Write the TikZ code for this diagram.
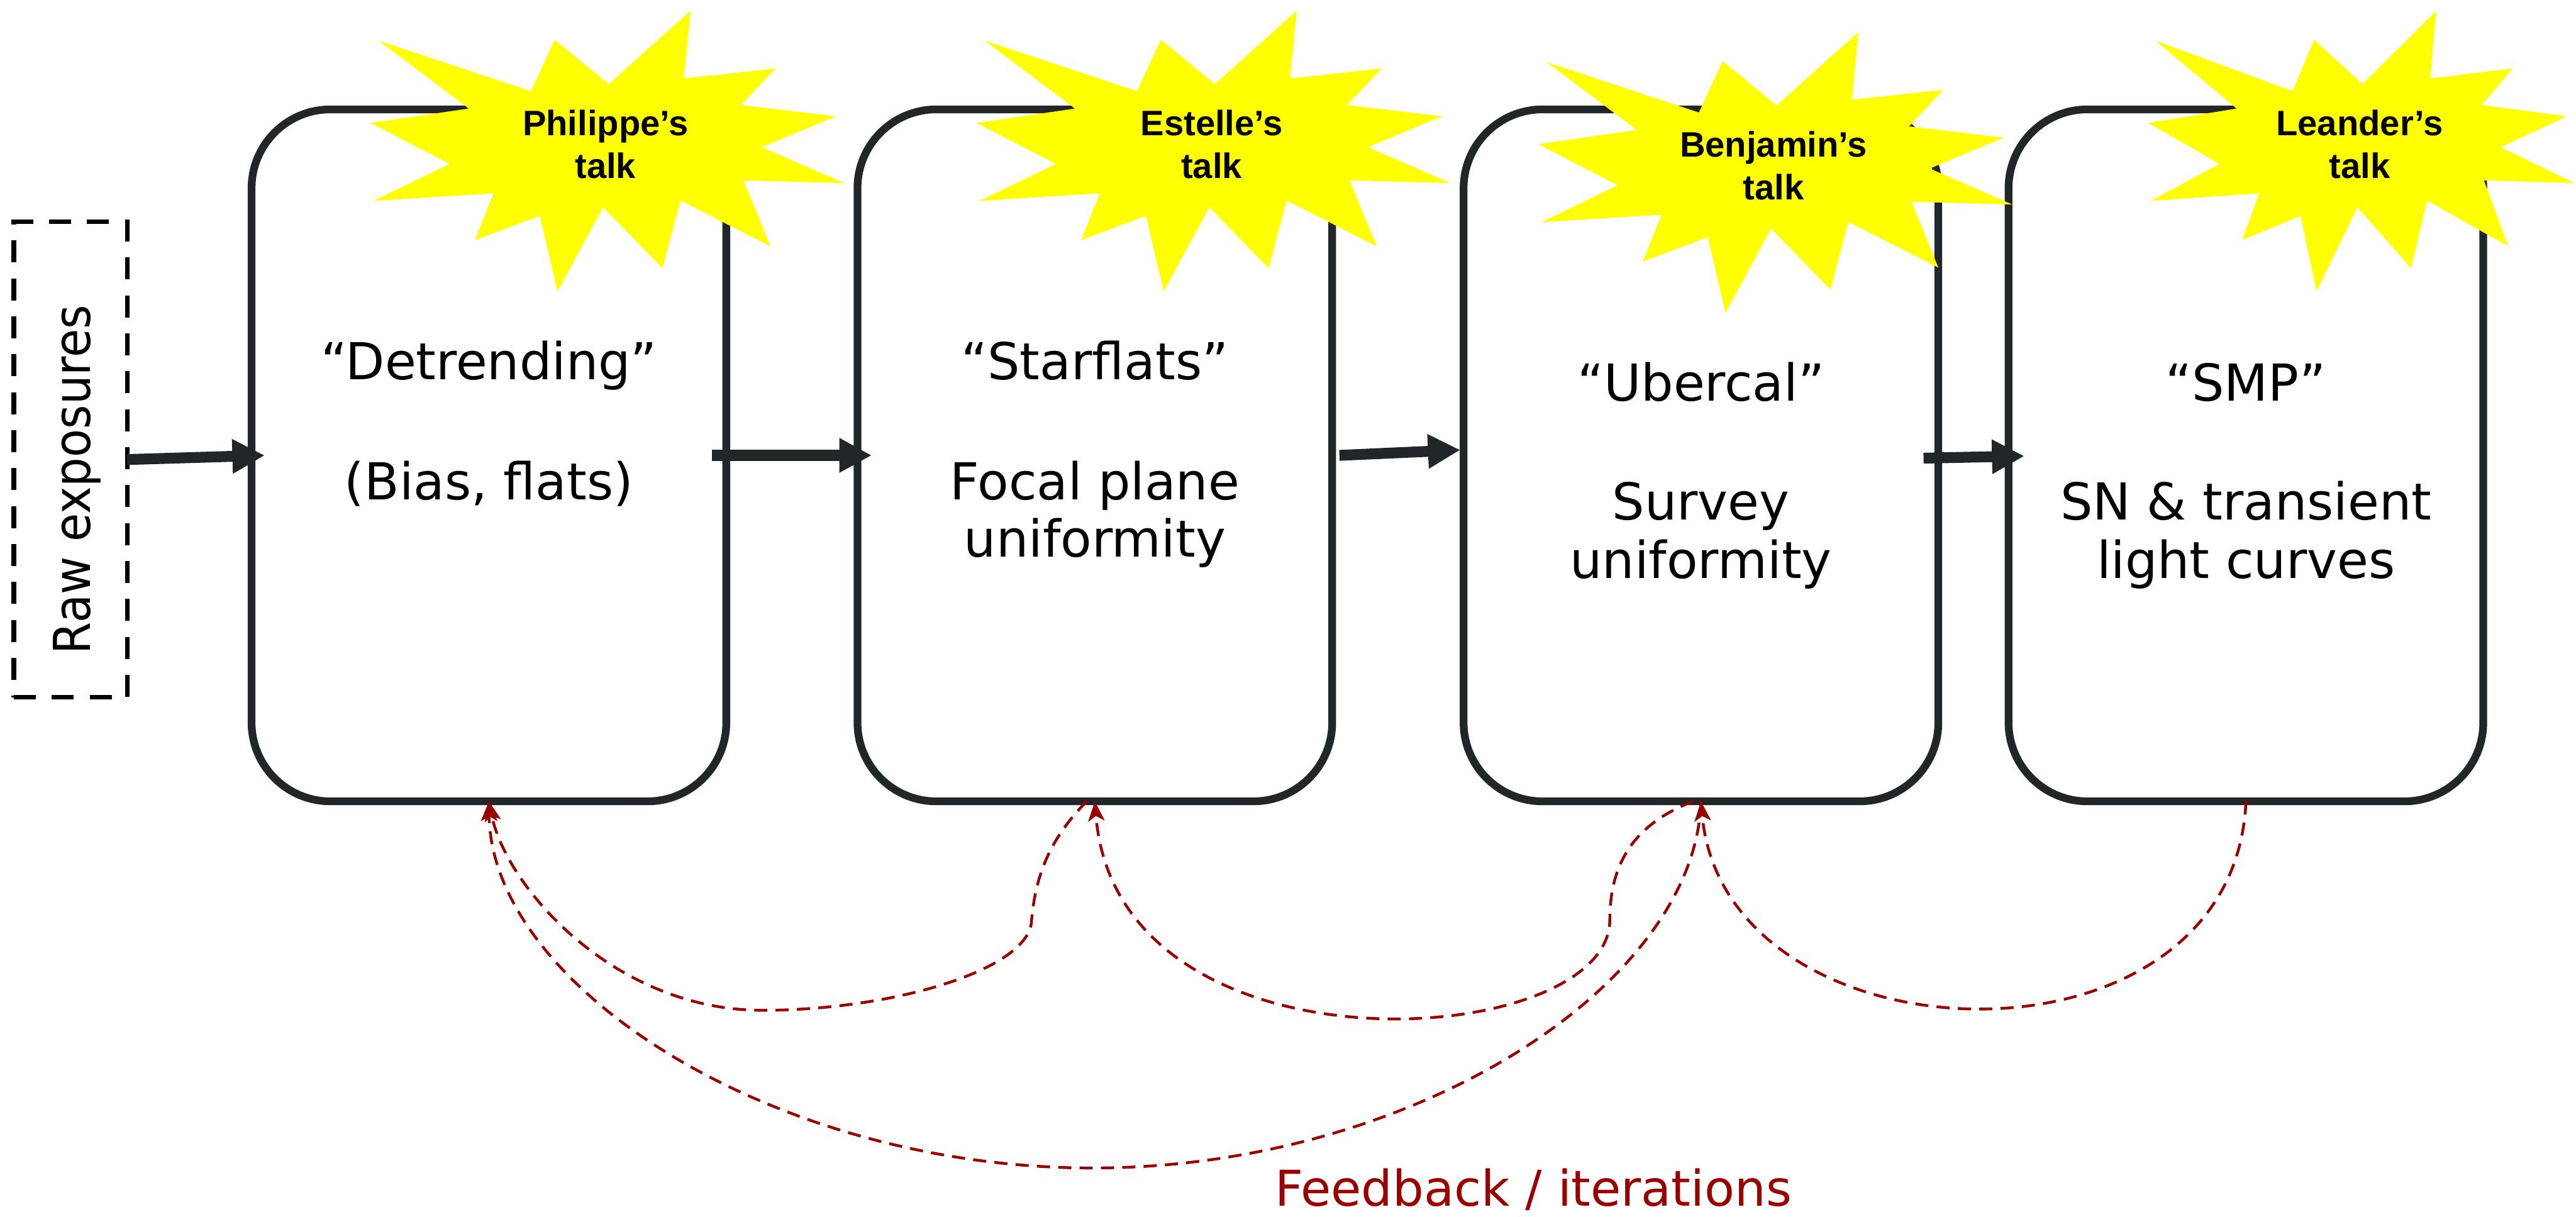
\documentclass[tikz,border=0pt]{standalone}
\usepackage{fontspec}
\setmainfont{DejaVu Sans}
\newfontfamily\talkfont{Liberation Sans}
\usetikzlibrary{arrows.meta,calc}

\definecolor{boxline}{RGB}{33,39,41}
\definecolor{fbred}{RGB}{153,0,0}
\definecolor{burst}{RGB}{255,255,0}

\tikzset{
  stage/.style={draw=boxline, line width=4.7pt, fill=white, rounded corners=48pt,
    minimum width=289pt, minimum height=421.2pt, inner sep=0pt, outer sep=0pt},
  rawbox/.style={draw=black, line width=2.8pt, dash pattern=on 13.4pt off 9.7pt,
    minimum width=69pt, minimum height=289.5pt, inner sep=0pt, outer sep=0pt},
  boxtxt/.style={font=\fontsize{31}{36}\selectfont, anchor=base, inner sep=0pt},
  talk/.style={font=\talkfont\bfseries\fontsize{21.5}{26}\selectfont, anchor=base, inner sep=0pt},
  flow/.style={draw=boxline, line width=6.6pt,
    -{Triangle[length=19.7pt,width=19.7pt]}},
  feedback/.style={draw=fbred, line width=1.7pt, dash pattern=on 8pt off 5pt},
  fbtip/.style={-{Stealth[length=12pt,width=10pt,inset=3pt]}},
}

\begin{document}
\begin{tikzpicture}[x=1pt,y=-1pt]
  % page
  \fill[white] (0,0) rectangle (1568.2,740.5);
  \useasboundingbox (0,0) rectangle (1568.2,740.5);

  % input and processing stages
  \node[rawbox] (raw) at (42.9,279.75) {};
  \node[anchor=base, rotate=90, inner sep=0pt, font=\fontsize{31}{36}\selectfont]
    (rawtext) at (55,292) {\scalebox{0.91}[1]{Raw exposures}};

  \node[stage] (b1) at (297.65,277.2) {};
  \node[stage] (b2) at (666.5,277.2) {};
  \node[stage] (b3) at (1035.5,277.2) {};
  \node[stage] (b4) at (1367.25,277.2) {};

  % forward flow
  \draw[flow] (raw.east) -- ($(b1.west)+(8,0)$);
  \draw[flow] ($(b1.east)+(-8.7,0)$) -- ($(b2.west)+(8.7,0)$);
  \draw[flow] ($(b2.east)+(4.4,0)$) -- ($(b3.west)+(-2,-3.3)$);
  \draw[flow] ($(b3.east)+(-9,1.7)$) -- ($(b4.west)+(9.6,0.4)$);

  % stage texts
  \node[boxtxt] (t1a) at (297.65,231) {“Detrending”};
  \node[boxtxt] (t1b) at (297.65,304) {(Bias, flats)};

  \node[boxtxt] (t2a) at (666.5,231) {“Starflats”};
  \node[boxtxt] (t2b) at (666.5,304) {Focal plane};
  \node[boxtxt] (t2c) at (666.5,339) {uniformity};

  \node[boxtxt] (t3a) at (1035.5,244) {“Ubercal”};
  \node[boxtxt] (t3b) at (1035.5,316.5) {Survey};
  \node[boxtxt] (t3c) at (1035.5,352) {uniformity};

  \node[boxtxt] (t4a) at (1367.25,244) {“SMP”};
  \node[boxtxt] (t4b) at (1367.25,316.5) {SN \& transient};
  \node[boxtxt] (t4c) at (1367.25,352) {light curves};

  % talk bursts
  \foreach \cx/\dy/\sx in {368.6/0/1, 737.6/0/1, 1079.6/13/1, 1436.5/0/0.9}{
    \fill[burst, shift={(\cx,\dy)}, xscale=\sx]
      (-138.1,24.8) -- (-45.4,55.5) -- (-30.9,24.2) -- (1.9,51.2)
      -- (51.8,6.5) -- (47.7,47.7) -- (103.5,41.7) -- (82.5,63.9)
      -- (140.2,70.8) -- (95.2,89.6) -- (145.4,111.5) -- (84.0,109.8)
      -- (100.4,149.9) -- (45.6,122.1) -- (34.7,163.3) -- (-1.5,126.2)
      -- (-29.2,177.4) -- (-40.0,131.4) -- (-79.5,146.2) -- (-68.1,117.7)
      -- (-141.3,122.3) -- (-94.9,99.8) -- (-143.1,74.8) -- (-83.2,66.1)
      -- cycle;
  }
  \node[talk] (s1a) at (368.6,82.5) {Philippe’s};
  \node[talk] (s1b) at (368.6,108.5) {talk};
  \node[talk] (s2a) at (737.6,82.5) {Estelle’s};
  \node[talk] (s2b) at (737.6,108.5) {talk};
  \node[talk] (s3a) at (1079.6,95.5) {Benjamin’s};
  \node[talk] (s3b) at (1079.6,121.5) {talk};
  \node[talk] (s4a) at (1436.5,82.5) {Leander’s};
  \node[talk] (s4b) at (1436.5,108.5) {talk};

  % feedback loops
  \coordinate (a0) at ($(b2.south)+(-5,0)$);
  \coordinate (c0) at ($(b3.south)+(-5,0)$);

  \draw[feedback, fbtip] (a0) .. controls (645,505) and (631,525) .. (628,560)
    .. controls (627.5,590) and (544,615) .. (464,615)
    .. controls (374,615) and (308,540) .. (b1.south);
  \draw[feedback, fbtip] (c0) .. controls (1000,500) and (980,520) .. (980,560)
    .. controls (980,640) and (680,660) .. (b2.south);
  \draw[feedback, fbtip] (b3.south) .. controls (1032,600) and (860,711) .. (665,711)
    .. controls (470,711) and (299,600) .. (b1.south);
  \draw[feedback, fbtip] (b4.south) .. controls (1360,660) and (1050,650) .. (b3.south);

  \node[anchor=base, inner sep=0pt, text=fbred, font=\fontsize{30}{36}\selectfont]
    (fbtext) at (933.5,734) {Feedback / iterations};
\end{tikzpicture}
\end{document}
